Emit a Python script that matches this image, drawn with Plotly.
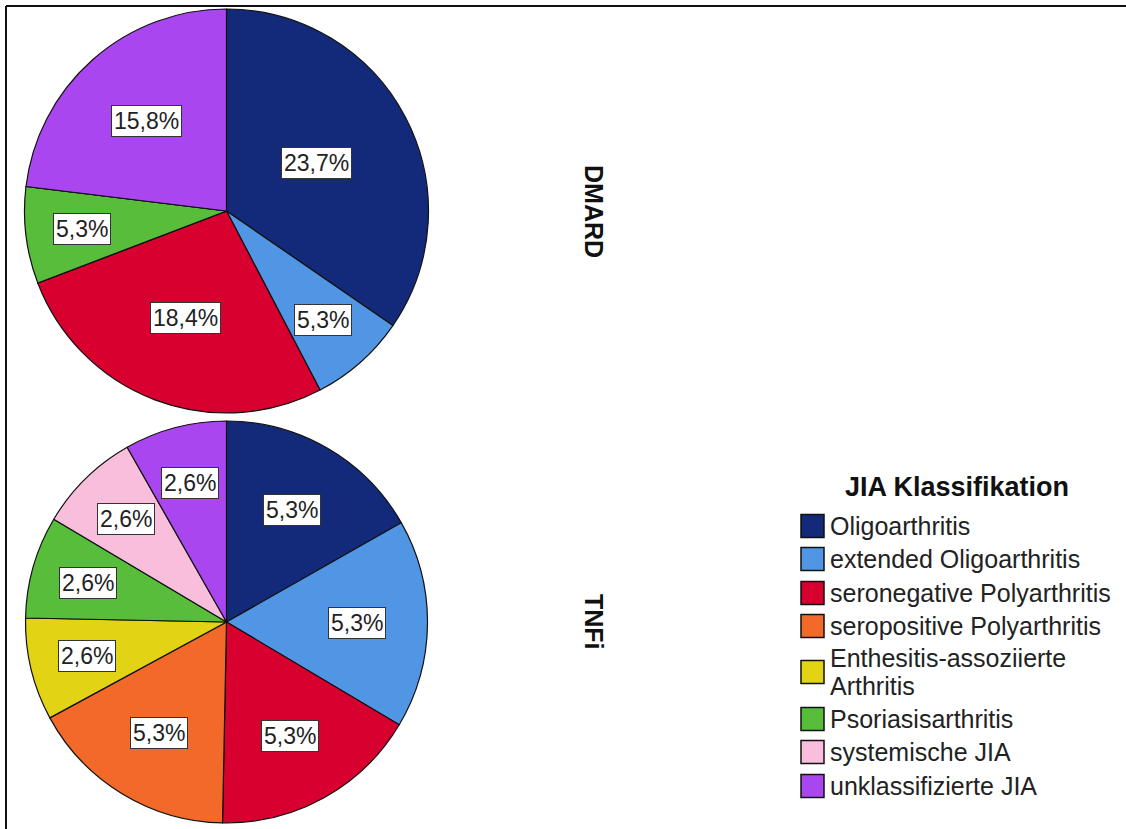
import math
import plotly.graph_objects as go

W, H = 1126, 829

# JIA classification categories (slice order, clockwise from 12 o'clock)
categories = [
    "Oligoarthritis",
    "extended Oligoarthritis",
    "seronegative Polyarthritis",
    "seropositive Polyarthritis",
    "Enthesitis-assoziierte Arthritis",
    "Psoriasisarthritis",
    "systemische JIA",
    "unklassifizierte JIA",
]
legend_labels = [
    "Oligoarthritis",
    "extended Oligoarthritis",
    "seronegative Polyarthritis",
    "seropositive Polyarthritis",
    "Enthesitis-assoziierte<br>Arthritis",
    "Psoriasisarthritis",
    "systemische JIA",
    "unklassifizierte JIA",
]
colors = [
    "#13297a",
    "#5196e4",
    "#d8002f",
    "#f2692a",
    "#e3d315",
    "#58bd3a",
    "#f9bedc",
    "#a946f0",
]

# Percent of all patients, per therapy group
groups = ["DMARD", "TNFi"]
dmard_pct = [23.7, 5.3, 18.4, 0.0, 0.0, 5.3, 0.0, 15.8]
tnfi_pct = [5.3, 5.3, 5.3, 5.3, 2.6, 2.6, 2.6, 2.6]
group_values = [dmard_pct, tnfi_pct]

# Pie placement in pixels: centre x, centre y (from top), radius
pie_geom = [(226.5, 211.0, 202.0), (226.5, 622.0, 201.0)]

FONT = "Liberation Sans, Arial, sans-serif"

fig = go.Figure()
annotations = []

for name, vals, (cx, cy, r) in zip(groups, group_values, pie_geom):
    fig.add_trace(go.Pie(
        labels=categories,
        values=vals,
        name=name,
        sort=False,
        direction="clockwise",
        rotation=0,
        textinfo="none",
        marker=dict(colors=colors, line=dict(color="#111111", width=1.2)),
        domain=dict(x=[(cx - r) / W, (cx + r) / W],
                    y=[1 - (cy + r) / H, 1 - (cy - r) / H]),
        showlegend=False,
        hovertemplate="%{label}: %{value:.1f}%<extra>" + name + "</extra>",
    ))

    # boxed percentage labels placed inside each slice
    total = sum(vals)
    cum = 0.0
    for v in vals:
        if v <= 0:
            continue
        span = v / total * 360.0
        mid = math.radians((cum + v / 2) / total * 360.0)
        frac = 0.78 - 0.0022 * span
        px = cx + frac * r * math.sin(mid)
        py = cy - frac * r * math.cos(mid)
        cum += v
        annotations.append(dict(
            x=px / W, y=1 - py / H, xref="paper", yref="paper",
            text=f"{v:.1f}%".replace(".", ","), showarrow=False,
            font=dict(family=FONT, size=23, color="#222222"),
            bgcolor="white", bordercolor="#333333", borderwidth=1, borderpad=2,
            xanchor="center", yanchor="middle",
        ))

    # group name, rotated, to the right of each pie
    annotations.append(dict(
        x=594 / W, y=1 - cy / H, xref="paper", yref="paper",
        text=f"<b>{name}</b>", showarrow=False, textangle=90,
        font=dict(family=FONT, size=25, color="#111111"),
        xanchor="center", yanchor="middle",
    ))

# Legend drawn as swatches + text
annotations.append(dict(
    x=957 / W, y=1 - 487 / H, xref="paper", yref="paper",
    text="<b>JIA Klassifikation</b>", showarrow=False,
    font=dict(family=FONT, size=27, color="#111111"),
    xanchor="center", yanchor="middle",
))
item_y = [526, 559, 593, 626, 672, 719, 752, 786]
line_gap = 28
shapes = []
sw = 23
for lab, col, yc in zip(legend_labels, colors, item_y):
    shapes.append(dict(
        type="rect", xref="paper", yref="paper",
        x0=801 / W, x1=(801 + sw) / W,
        y0=1 - (yc + sw / 2) / H, y1=1 - (yc - sw / 2) / H,
        fillcolor=col, line=dict(color="#111111", width=1.5),
    ))
    # multi-line labels are set line by line for tighter spacing
    lines = lab.split("<br>")
    first = yc - (len(lines) - 1) * line_gap / 2
    for k, txt in enumerate(lines):
        annotations.append(dict(
            x=828 / W, y=1 - (first + k * line_gap) / H,
            xref="paper", yref="paper",
            text=txt, showarrow=False, align="left",
            font=dict(family=FONT, size=25, color="#222222"),
            xanchor="left", yanchor="middle",
        ))

# Outer frame: top and left edges
shapes.append(dict(type="line", xref="paper", yref="paper",
                   x0=6 / W, x1=1, y0=1 - 6 / H, y1=1 - 6 / H,
                   line=dict(color="#111111", width=2)))
shapes.append(dict(type="line", xref="paper", yref="paper",
                   x0=6 / W, x1=6 / W, y0=1 - 6 / H, y1=0,
                   line=dict(color="#111111", width=2)))

fig.update_layout(
    width=W, height=H,
    margin=dict(l=0, r=0, t=0, b=0),
    paper_bgcolor="white", plot_bgcolor="white",
    annotations=annotations, shapes=shapes,
    showlegend=False,
)

fig.write_html("out.html")
